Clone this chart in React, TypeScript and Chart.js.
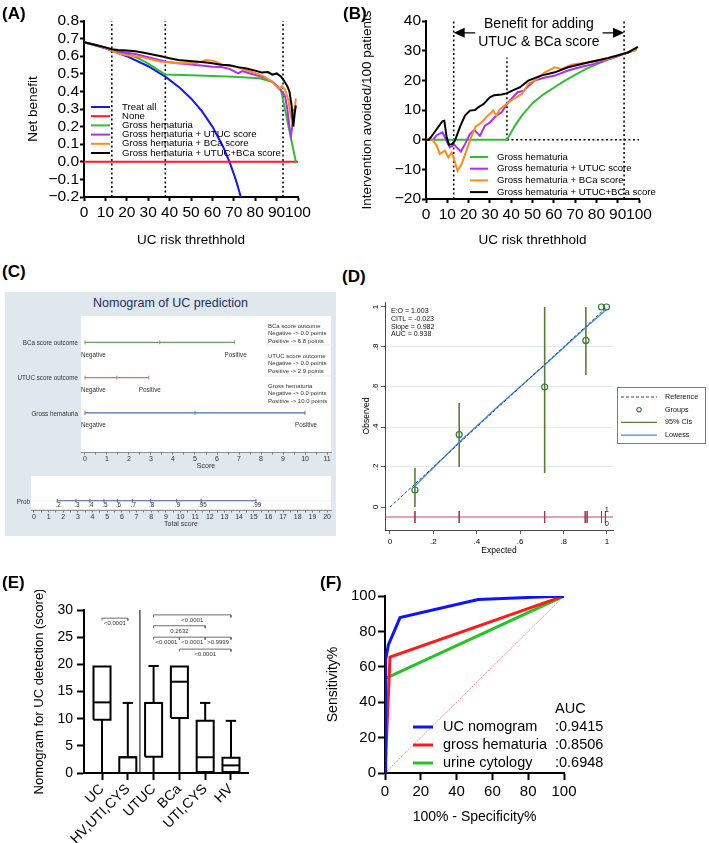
import React, { useEffect, useRef } from 'react';
import { Chart, registerables } from 'chart.js';

Chart.register(...registerables);

const FONT = "'Liberation Sans', Arial, Helvetica, sans-serif";
Chart.defaults.font.family = FONT;
Chart.defaults.color = '#000';

/* ================= DATA ================= */
// Panel A – decision curve, net benefit
const aThresholds = [13, 38, 93];
const aTreatAllX = [0, 10, 20, 30, 38, 45, 50, 55, 60, 65, 68, 71, 74];
const aTreatAllY = [0.68, 0.645, 0.6, 0.543, 0.484, 0.418, 0.36, 0.289, 0.2, 0.086, 0.0, -0.104, -0.23];
const aNoneX = [0, 100];
const aNoneY = [0, 0];
const aGrossX = [0, 5, 10, 13, 17, 21, 25, 29, 33, 38, 50, 60, 70, 82, 88, 92, 99];
const aGrossY = [0.68, 0.665, 0.648, 0.638, 0.625, 0.61, 0.59, 0.565, 0.535, 0.496, 0.492, 0.488, 0.483, 0.475, 0.455, 0.41, 0.0];
const aUtucX = [0, 5, 10, 13, 16, 20, 24, 28, 32, 36, 40, 44, 48, 52, 56, 60, 64, 68, 70, 72, 74, 78, 82, 86, 89, 91, 93, 94, 95, 96, 96.7, 97.3, 98];
const aUtucY = [0.68, 0.665, 0.648, 0.632, 0.628, 0.62, 0.612, 0.6, 0.588, 0.576, 0.565, 0.56, 0.556, 0.55, 0.546, 0.54, 0.538, 0.528, 0.515, 0.502, 0.515, 0.5, 0.488, 0.47, 0.445, 0.42, 0.39, 0.37, 0.3, 0.2, 0.15, 0.2, 0.3];
const aBcaX = [0, 5, 10, 13, 16, 20, 24, 28, 32, 36, 40, 44, 48, 52, 55, 57, 59, 61, 63, 66, 69, 72, 76, 80, 84, 88, 91, 92.5, 94, 95.5, 96.5, 97.5, 98.5, 99];
const aBcaY = [0.68, 0.665, 0.648, 0.632, 0.615, 0.605, 0.6, 0.592, 0.58, 0.568, 0.565, 0.56, 0.562, 0.56, 0.57, 0.578, 0.575, 0.572, 0.56, 0.548, 0.545, 0.535, 0.52, 0.505, 0.485, 0.455, 0.415, 0.43, 0.41, 0.35, 0.27, 0.22, 0.3, 0.36];
const aBothX = [0, 5, 10, 13, 16, 20, 24, 28, 32, 36, 40, 44, 48, 52, 56, 60, 64, 68, 72, 76, 80, 83, 86, 88, 90, 92, 93.5, 95, 96, 97, 97.8, 98.5, 99];
const aBothY = [0.68, 0.665, 0.65, 0.64, 0.635, 0.632, 0.628, 0.62, 0.61, 0.6, 0.588, 0.578, 0.574, 0.57, 0.565, 0.56, 0.552, 0.548, 0.538, 0.53, 0.518, 0.508, 0.51, 0.495, 0.502, 0.485, 0.46, 0.43, 0.4, 0.32, 0.2, 0.28, 0.32];
const aNames = ['Treat all', 'None', 'Gross hematuria', 'Gross hematuria + UTUC score', 'Gross hematuria + BCa score', 'Gross hematuria + UTUC+BCa score'];
const aXTicks = [0, 10, 20, 30, 40, 50, 60, 70, 80, 90, 100];
const aYTicks = [-0.2, -0.1, 0, 0.1, 0.2, 0.3, 0.4, 0.5, 0.6, 0.7, 0.8];

// Panel B – interventions avoided
const bThresholds = [13, 38, 93];
const bThresholdBottom = [-20, 0, -20];
const bThresholdTop = [40, 27.7, 40];
const bZeroLineFrom = 38;
const bArrow = [13, 93, 36];
const bBenefitText = ['Benefit for adding', 'UTUC & BCa score'];
const bGrossX = [0, 38, 40, 42, 45, 50, 55, 60, 65, 70, 75, 80, 85, 90, 95, 99];
const bGrossY = [0, 0, 2.5, 5, 8.1, 12.3, 15.2, 17.5, 19.8, 21.8, 23.8, 25.4, 26.9, 28.2, 29.4, 30.6];
const bUtucX = [0, 3.4, 5, 7.7, 8.9, 10, 11.2, 13.3, 14.4, 16.4, 18.3, 20.6, 22.7, 25.3, 27.7, 30, 33, 35.5, 38.6, 41, 43, 46, 48, 51, 55, 60.5, 66.7, 73, 79, 84, 88.6, 93, 98];
const bUtucY = [0, 0, 1.5, 2.5, 0.8, -1, -2.6, -1.7, -2.6, -4, -1.5, 1.9, 3.3, 1.3, 4.7, 5.8, 8.1, 9.2, 12.6, 14.5, 16, 16.5, 18, 19.9, 20.8, 21.6, 23.3, 24.6, 25.5, 26.7, 27.8, 29, 30.2];
const bBcaX = [0, 3, 5, 6.5, 8.9, 10.5, 12, 13.6, 14.8, 16.7, 19, 21.4, 23.3, 26, 29, 31.6, 33, 34.7, 37.8, 41, 45, 48, 52, 55.8, 60.5, 63.6, 68.3, 76, 85.5, 93.3, 98.8];
const bBcaY = [0, 0, -2, -4.8, -3.7, -6, -4.3, -7.6, -10.5, -8.2, -3.7, 1.3, 4.4, 5.8, 8.1, 9.8, 8.1, 10.3, 12, 13.7, 15.4, 18.8, 20.4, 22.7, 24.4, 23.8, 25.3, 26, 27.2, 29.1, 30.2];
const bBothX = [0, 1.4, 3.4, 7.7, 8.6, 9.7, 10.8, 12.3, 13.6, 16, 18.3, 20.6, 23, 24.5, 27, 30, 32, 35.5, 37.8, 41, 44, 48, 54, 60.5, 66.7, 76, 85.5, 94.8, 99.5];
const bBothY = [0, 0, 1.9, 6.2, 6.4, 0.8, -1.7, -1.5, -0.3, 4.4, 8.1, 9.8, 10, 10.9, 12, 14.3, 15, 15.2, 15.6, 16.7, 17.6, 19.9, 21.6, 22.7, 24.4, 26, 27.5, 29.4, 31.3];
const bNames = ['Gross hematuria', 'Gross hematuria + UTUC score', 'Gross hematuria + BCa score', 'Gross hematuria + UTUC+BCa score'];
const bYTicks = [-20, -10, 0, 10, 20, 30, 40];

// Panel C – nomogram
const cVariables = ['BCa score outcome', 'UTUC score outcome', 'Gross hematuria'];
const cPositivePoints = [6.8, 2.9, 10.0];
const cLevels = ['Negative', 'Positive'];
const cScoreTicks = [0, 1, 2, 3, 4, 5, 6, 7, 8, 9, 10, 11];
const cTotalTicks = [0, 1, 2, 3, 4, 5, 6, 7, 8, 9, 10, 11, 12, 13, 14, 15, 16, 17, 18, 19, 20];
const cProbLabels = ['.2', '.3', '.4', '.5', '.6', '.7', '.8', '.9', '.95', '.99'];
const cProbScores = [1.59, 2.87, 3.82, 4.78, 5.69, 6.71, 7.96, 9.74, 11.42, 15.15];

// Panel D – calibration
const dGroupX = [0.115, 0.319, 0.713, 0.903, 0.975, 0.998];
const dGroupY = [0.085, 0.362, 0.6, 0.833, 1.0, 1.0];
const dCiX = [0.115, 0.319, 0.713, 0.903];
const dCiLow = [0.0, 0.2, 0.17, 0.66];
const dCiHigh = [0.195, 0.52, 1.0, 1.0];
const dLowessX = [0.11, 0.32, 0.5, 0.713, 0.9, 1.0];
const dLowessY = [0.1, 0.325, 0.505, 0.71, 0.895, 0.99];
const dRugX = [0.115, 0.319, 0.713, 0.9, 0.909, 0.975, 0.993];
const dStats = ['E:O = 1.003', 'CITL = -0.023', 'Slope = 0.982', 'AUC = 0.938'];
const dLegend = ['Reference', 'Groups', '95% CIs', 'Lowess'];
const dTicks = [0, 0.2, 0.4, 0.6, 0.8, 1];

// Panel E – box plots
const eCategories = ['UC', 'HV,UTI,CYS', 'UTUC', 'BCa', 'UTI,CYS', 'HV'];
const eMin = [0, 0, 0, 0, 0.2, 0.2];
const eQ1 = [9.8, 0, 3.0, 10.1, 0.2, 0.2];
const eMedian = [13.0, 2.9, 12.9, 16.8, 2.9, 1.4];
const eQ3 = [19.6, 2.9, 12.9, 19.6, 9.6, 2.8];
const eMax = [19.6, 12.9, 19.7, 19.6, 12.9, 9.6];
const eBracketFrom = [0, 2, 2, 2, 3, 4, 3];
const eBracketTo = [1, 5, 4, 3, 4, 5, 5];
const eBracketY = [28.5, 29.1, 27.1, 25.0, 25.0, 25.0, 22.8];
const eBracketP = ['<0.0001', '<0.0001', '0.2632', '<0.0001', '<0.0001', '>0.9999', '<0.0001'];
const eYTicks = [0, 5, 10, 15, 20, 25, 30];

// Panel F – ROC
const fNomX = [0, 0.2, 0.5, 1.9, 4.7, 8.4, 52, 100];
const fNomY = [0, 40, 64, 72.5, 79, 87.8, 98, 100];
const fGrossX = [0, 2.8, 100];
const fGrossY = [0, 65.5, 100];
const fCytoX = [0, 0.3, 100];
const fCytoY = [0, 53.5, 100];
const fNames = ['UC nomogram', 'gross hematuria', 'urine cytology'];
const fAuc = [0.9415, 0.8506, 0.6948];
const fTicks = [0, 20, 40, 60, 80, 100];

/* ================= HELPERS ================= */
const pts = (xs: number[], ys: number[]) => xs.map((x, i) => ({ x, y: ys[i] }));

function line(data: any[], color: string, width: number, extra: any = {}) {
  return { data, showLine: true, borderColor: color, backgroundColor: color, borderWidth: width, pointRadius: 0, pointHoverRadius: 0, tension: 0, ...extra };
}

function ax(o: any) {
  return {
    type: 'linear',
    min: o.min,
    max: o.max,
    display: o.display ?? true,
    afterFit: (s: any) => { if (s.isHorizontal()) s.height = o.size; else s.width = o.size; },
    afterBuildTicks: (s: any) => { s.ticks = o.ticks.map((v: number) => ({ value: v })); },
    ticks: {
      autoSkip: false,
      minRotation: o.rot || 0,
      maxRotation: o.rot || 0,
      font: { size: o.font },
      color: o.color || '#000',
      padding: o.pad ?? 2,
      crossAlign: o.cross || 'near',
      callback: o.fmt || ((v: number) => String(v)),
    },
    grid: {
      drawOnChartArea: !!o.grid,
      color: o.grid || '#000',
      tickColor: o.tickColor || '#000',
      tickLength: o.tl ?? 5,
      tickWidth: o.tw ?? 2,
      lineWidth: 1,
    },
    border: { display: true, color: o.axisColor || '#000', width: o.bw ?? 2 },
    title: o.title
      ? { display: true, text: o.title, font: { size: o.tfont }, color: o.color || '#000', padding: o.tpad }
      : { display: false },
  };
}

function opts(padding: any, scales: any) {
  return {
    responsive: false,
    animation: false,
    events: [],
    layout: { padding },
    plugins: { legend: { display: false }, tooltip: { enabled: false }, title: { display: false } },
    scales,
  };
}

function legendPlugin(id: string, items: any[], L: any) {
  return {
    id,
    afterDraw(chart: any) {
      const ctx = chart.ctx;
      ctx.save();
      ctx.font = `${L.size}px ${FONT}`;
      ctx.textBaseline = 'middle';
      ctx.textAlign = 'left';
      items.forEach((it, i) => {
        const y = L.y0 + i * L.dy;
        if (it.point) {
          ctx.strokeStyle = it.color;
          ctx.lineWidth = 1.1;
          ctx.beginPath();
          ctx.arc((L.x0 + L.x1) / 2, y, 2.2, 0, Math.PI * 2);
          ctx.stroke();
        } else {
          ctx.strokeStyle = it.color;
          ctx.lineWidth = it.lw || L.lw;
          ctx.setLineDash(it.dash || []);
          ctx.beginPath();
          ctx.moveTo(L.x0, y);
          ctx.lineTo(L.x1, y);
          ctx.stroke();
          ctx.setLineDash([]);
        }
        ctx.fillStyle = L.textColor || '#000';
        ctx.fillText(it.label, L.tx, y);
        if (it.extra) ctx.fillText(it.extra, L.ex, y);
      });
      if (L.header) ctx.fillText(L.header, L.ex, L.y0 - L.dy);
      ctx.restore();
    },
  };
}

const minus = (s: string) => s.replace('-', '\u2212');

/* ================= PANEL CONFIGS ================= */
const A_COL = ['#1414ff', '#ff1a1a', '#2fc02f', '#b02cf0', '#ff8a1e', '#000000'];

function configA() {
  const series = [pts(aTreatAllX, aTreatAllY), pts(aNoneX, aNoneY), pts(aGrossX, aGrossY), pts(aUtucX, aUtucY), pts(aBcaX, aBcaY), pts(aBothX, aBothY)];
  const ds: any[] = [];
  for (let i = series.length - 1; i >= 0; i--) ds.push(line(series[i], A_COL[i], 2));
  aThresholds.forEach((t) => ds.push(line([{ x: t, y: -0.2 }, { x: t, y: 0.8 }], '#000', 1.5, { borderDash: [2, 2.5] })));
  return {
    type: 'scatter',
    data: { datasets: ds },
    options: opts({ left: 0, top: 21, right: 57, bottom: 0 }, {
      x: ax({ min: 0, max: 100, size: 58, ticks: aXTicks, font: 15.5, pad: 2, tl: 4, title: 'UC risk threthhold', tfont: 13.5, tpad: { top: 0, bottom: 7 } }),
      y: ax({ min: -0.2, max: 0.8, size: 84, ticks: aYTicks, font: 15.5, pad: 1, tl: 4, fmt: (v: number) => minus(v.toFixed(1)), title: 'Net benefit', tfont: 13.5, tpad: { top: 25, bottom: 0 } }),
    }),
    plugins: [legendPlugin('legA', aNames.map((n, i) => ({ label: n, color: A_COL[i] })), { x0: 91, x1: 110, tx: 122, y0: 107, dy: 9.2, size: 9.6, lw: 2 })],
  };
}

const B_COL = ['#2fc02f', '#b02cf0', '#ff8a1e', '#000000'];

function configB() {
  const series = [pts(bGrossX, bGrossY), pts(bUtucX, bUtucY), pts(bBcaX, bBcaY), pts(bBothX, bBothY)];
  const ds: any[] = [];
  for (let i = series.length - 1; i >= 0; i--) ds.push(line(series[i], B_COL[i], 2));
  bThresholds.forEach((t, i) => ds.push(line([{ x: t, y: bThresholdBottom[i] }, { x: t, y: bThresholdTop[i] }], '#000', 1.5, { borderDash: [2, 2.5] })));
  ds.push(line([{ x: bZeroLineFrom, y: 0 }, { x: 100, y: 0 }], '#000', 1.5, { borderDash: [2, 2.5] }));
  const annot = {
    id: 'bAnnot',
    afterDatasetsDraw(chart: any) {
      const { ctx, scales } = chart;
      const xl = scales.x.getPixelForValue(bArrow[0]);
      const xr = scales.x.getPixelForValue(bArrow[1]);
      const ya = scales.y.getPixelForValue(bArrow[2]);
      ctx.save();
      ctx.font = `14px ${FONT}`;
      const w = Math.max(...bBenefitText.map((t) => ctx.measureText(t).width));
      const xc = (xl + xr) / 2;
      ctx.strokeStyle = '#000';
      ctx.lineWidth = 1.2;
      ctx.beginPath();
      ctx.moveTo(xl + 8, ya);
      ctx.lineTo(xc - w / 2 - 3, ya);
      ctx.moveTo(xc + w / 2 + 3, ya);
      ctx.lineTo(xr - 8, ya);
      ctx.stroke();
      ctx.fillStyle = '#000';
      ctx.beginPath();
      ctx.moveTo(xl, ya); ctx.lineTo(xl + 11, ya - 5); ctx.lineTo(xl + 11, ya + 5); ctx.closePath(); ctx.fill();
      ctx.beginPath();
      ctx.moveTo(xr, ya); ctx.lineTo(xr - 11, ya - 5); ctx.lineTo(xr - 11, ya + 5); ctx.closePath(); ctx.fill();
      ctx.textAlign = 'center';
      ctx.textBaseline = 'middle';
      ctx.fillText(bBenefitText[0], xc, ya - 9);
      ctx.fillText(bBenefitText[1], xc, ya + 9.5);
      ctx.restore();
    },
  };
  return {
    type: 'scatter',
    data: { datasets: ds },
    options: opts({ left: 0, top: 21, right: 70, bottom: 0 }, {
      x: ax({ min: 0, max: 100, size: 56, ticks: aXTicks, font: 15.5, pad: 2, tl: 4, title: 'UC risk threthhold', tfont: 13.5, tpad: { top: 0, bottom: 7 } }),
      y: ax({ min: -20, max: 40, size: 71, ticks: bYTicks, font: 15.5, pad: 1, tl: 4, fmt: (v: number) => minus(String(v)), title: 'Intervention avoided/100 patients', tfont: 13.5, tpad: { top: 4, bottom: 0 } }),
    }),
    plugins: [annot, legendPlugin('legB', bNames.map((n, i) => ({ label: n, color: B_COL[i] })), { x0: 115, x1: 133, tx: 142, y0: 157, dy: 11.7, size: 9.6, lw: 2 })],
  };
}

const C_COL = ['#6f9f5f', '#c8737c', '#4f6fa8'];
const halfSteps = (ticks: number[]) => {
  const out: number[] = [];
  ticks.forEach((t, i) => { out.push(t); if (i < ticks.length - 1) out.push((t + ticks[i + 1]) / 2); });
  return out;
};

function configC1() {
  const n = cVariables.length;
  const ds = cVariables.map((_, i) => {
    const y = n - i;
    const p = cPositivePoints[i];
    return line([{ x: 0, y }, { x: p / 2, y }, { x: p, y }], C_COL[i], 1.2, { pointStyle: 'line', rotation: 90, pointRadius: 2, pointBorderColor: C_COL[i], pointBorderWidth: 0.9 });
  });
  const plug = {
    id: 'nomo',
    beforeDraw(chart: any) {
      const { ctx, chartArea: a } = chart;
      ctx.save();
      ctx.fillStyle = '#ffffff';
      ctx.fillRect(a.left, a.top, a.right - a.left, a.bottom - a.top);
      ctx.strokeStyle = '#e6e6e6';
      ctx.lineWidth = 0.8;
      [32, 63].forEach((yy) => { ctx.beginPath(); ctx.moveTo(a.right - 66, yy); ctx.lineTo(a.right, yy); ctx.stroke(); });
      ctx.restore();
    },
    afterDraw(chart: any) {
      const { ctx, scales, chartArea: a } = chart;
      ctx.save();
      ctx.font = `6.3px ${FONT}`;
      ctx.fillStyle = '#333';
      ctx.textBaseline = 'middle';
      cVariables.forEach((name, i) => {
        const y = scales.y.getPixelForValue(n - i);
        ctx.textAlign = 'right';
        ctx.fillText(name, a.left - 3, y + 1);
        ctx.textAlign = 'left';
        ctx.fillText(cLevels[0], scales.x.getPixelForValue(0) - 4, y + 12.5);
        ctx.textAlign = 'center';
        ctx.fillText(cLevels[1], scales.x.getPixelForValue(cPositivePoints[i]) + 1, y + 12.5);
        const lines = [name, `${cLevels[0]} -> 0.0 points`, `${cLevels[1]} -> ${cPositivePoints[i].toFixed(1)} points`];
        ctx.textAlign = 'left';
        ctx.font = `6px ${FONT}`;
        lines.forEach((t, k) => ctx.fillText(t, a.right - 63, a.top + 10 + i * 30 + k * 7.6));
        ctx.font = `6.3px ${FONT}`;
      });
      ctx.restore();
    },
  };
  return {
    type: 'scatter',
    data: { datasets: ds },
    options: opts({ left: 76, top: 0, right: 5, bottom: 0 }, {
      x: ax({ min: -0.18, max: 11.18, size: 21, ticks: halfSteps(cScoreTicks), font: 7, pad: 0, tl: 2.5, tw: 0.8, tickColor: '#555', axisColor: '#777', bw: 0.8, color: '#333', fmt: (v: number) => (Number.isInteger(v) ? String(v) : ''), title: 'Score', tfont: 7, tpad: { top: 0, bottom: 3 } }),
      y: { type: 'linear', display: false, min: -0.11, max: 3.75 },
    }),
    plugins: [plug],
  };
}

function configC2() {
  const ROW = 0.27;
  const ds = [line(cProbScores.map((x) => ({ x, y: ROW })), '#4a5f8c', 1.1, { pointStyle: 'line', rotation: 90, pointRadius: 2, pointBorderColor: '#4a5f8c', pointBorderWidth: 0.9 })];
  const plug = {
    id: 'prob',
    beforeDraw(chart: any) {
      const { ctx, chartArea: a, scales } = chart;
      ctx.save();
      ctx.fillStyle = '#ffffff';
      ctx.fillRect(a.left, a.top, a.right - a.left, a.bottom - a.top - 1);
      const y = scales.y.getPixelForValue(ROW);
      ctx.strokeStyle = '#ececec';
      ctx.lineWidth = 0.8;
      ctx.beginPath(); ctx.moveTo(a.left, y); ctx.lineTo(a.right, y); ctx.stroke();
      ctx.restore();
    },
    afterDraw(chart: any) {
      const { ctx, scales, chartArea: a } = chart;
      const y = scales.y.getPixelForValue(ROW);
      ctx.save();
      ctx.font = `6.3px ${FONT}`;
      ctx.fillStyle = '#333';
      ctx.textBaseline = 'middle';
      ctx.textAlign = 'right';
      ctx.fillText('Prob', a.left - 1, y + 1);
      ctx.textAlign = 'center';
      cProbLabels.forEach((l, i) => ctx.fillText(l, scales.x.getPixelForValue(cProbScores[i]) + 1, y + 4));
      ctx.restore();
    },
  };
  return {
    type: 'scatter',
    data: { datasets: ds },
    options: opts({ left: 26, top: 0, right: 5, bottom: 0 }, {
      x: ax({ min: -0.2, max: 20.27, size: 18, ticks: halfSteps(cTotalTicks), font: 7, pad: 0, tl: 2.5, tw: 0.8, tickColor: '#555', axisColor: '#777', bw: 0.8, color: '#333', fmt: (v: number) => (Number.isInteger(v) ? String(v) : ''), title: 'Total score', tfont: 7, tpad: { top: 0, bottom: 0 } }),
      y: { type: 'linear', display: false, min: 0, max: 1 },
    }),
    plugins: [plug],
  };
}

const D_REF = '#24467a';
const D_LOW = '#3d8fe8';
const D_GRP = '#2e7d32';
const D_CI = '#5c7c32';
const D_RUG = '#c8485a';

function configD() {
  const xmin = -0.023;
  const xmax = 1.028;
  const ds: any[] = [];
  ds.push({ data: pts(dGroupX, dGroupY), showLine: false, pointStyle: 'circle', pointRadius: 3, pointBorderColor: D_GRP, pointBackgroundColor: 'rgba(0,0,0,0)', pointBorderWidth: 1.2 });
  ds.push(line([{ x: 0, y: 0 }, { x: 1, y: 1 }], D_REF, 1, { borderDash: [3, 2] }));
  ds.push(line(pts(dLowessX, dLowessY), D_LOW, 1.3));
  dCiX.forEach((x, i) => ds.push(line([{ x, y: dCiLow[i] }, { x, y: dCiHigh[i] }], D_CI, 1.6)));
  dRugX.forEach((x) => ds.push(line([{ x, y: -0.02 }, { x, y: -0.08 }], '#a8384a', 0.9)));
  ds.push(line([{ x: xmin, y: -0.05 }, { x: xmax, y: -0.05 }], D_RUG, 1));
  const plug = {
    id: 'dText',
    afterDraw(chart: any) {
      const { ctx, scales } = chart;
      ctx.save();
      ctx.font = `7px ${FONT}`;
      ctx.fillStyle = '#111';
      ctx.textBaseline = 'middle';
      ctx.textAlign = 'left';
      dStats.forEach((t, i) => ctx.fillText(t, 36, 16 + i * 7.8));
      ctx.font = `7.5px ${FONT}`;
      ctx.textAlign = 'center';
      const xr = scales.x.getPixelForValue(1);
      ctx.fillText('1', xr, scales.y.getPixelForValue(-0.015));
      ctx.fillText('0', xr, scales.y.getPixelForValue(-0.087));
      ctx.strokeStyle = '#7a7a7a';
      ctx.lineWidth = 1;
      ctx.strokeRect(262.5, 92.5, 88, 56);
      ctx.restore();
    },
  };
  const legItems = [
    { label: dLegend[0], color: D_REF, dash: [3, 2], lw: 1 },
    { label: dLegend[1], color: D_GRP, point: true },
    { label: dLegend[2], color: D_CI, lw: 1.4 },
    { label: dLegend[3], color: D_LOW, lw: 1.3 },
  ];
  const fmt = (v: number) => (v === 0 ? '0' : v === 1 ? '1' : '.' + Math.round(v * 10));
  return {
    type: 'scatter',
    data: { datasets: ds },
    options: opts({ left: 0, top: 7, right: 96, bottom: 0 }, {
      x: ax({ min: xmin, max: xmax, size: 30, ticks: dTicks, font: 8, pad: 3, tl: 4, tw: 0.8, bw: 0.9, axisColor: '#333', tickColor: '#333', fmt, title: 'Expected', tfont: 8.5, tpad: { top: 0, bottom: 4 } }),
      y: ax({
        min: -0.115, max: 1.025, size: 30, ticks: dTicks, font: 8, pad: 1.6, tl: 4, tw: 0.8, bw: 0.9, axisColor: '#333', tickColor: '#333', rot: 90, cross: 'center', fmt,
        grid: (c: any) => (c.tick && c.tick.value > 0.01 && c.tick.value < 0.99 ? '#e2ebef' : 'rgba(0,0,0,0)'),
        title: 'Observed', tfont: 8.5, tpad: { top: 7, bottom: 0 },
      }),
    }),
    plugins: [plug, legendPlugin('legD', legItems, { x0: 266, x1: 302, tx: 310, y0: 102, dy: 12.7, size: 7.2, lw: 1, textColor: '#111' })],
  };
}

const BOX_HW = 0.33;
const CAP_HW = 0.2;

function configE() {
  const ds: any[] = [];
  eCategories.forEach((_, i) => {
    const q1 = eQ1[i], q3 = eQ3[i], md = eMedian[i];
    ds.push(line([{ x: i - BOX_HW, y: q1 }, { x: i + BOX_HW, y: q1 }, { x: i + BOX_HW, y: q3 }, { x: i - BOX_HW, y: q3 }, { x: i - BOX_HW, y: q1 }], '#000', 2));
    ds.push(line([{ x: i - BOX_HW, y: md }, { x: i + BOX_HW, y: md }], '#000', 2));
    if (eMax[i] > q3) {
      ds.push(line([{ x: i, y: q3 }, { x: i, y: eMax[i] }], '#000', 2));
      ds.push(line([{ x: i - CAP_HW, y: eMax[i] }, { x: i + CAP_HW, y: eMax[i] }], '#000', 2));
    }
    if (eMin[i] < q1) {
      ds.push(line([{ x: i, y: q1 }, { x: i, y: eMin[i] }], '#000', 2));
    }
  });
  ds.push(line([{ x: 1.47, y: 0 }, { x: 1.47, y: 30 }], '#000', 1));
  eBracketFrom.forEach((f, i) => {
    const y = eBracketY[i];
    ds.push(line([{ x: f, y: y - 0.45 }, { x: f, y }, { x: eBracketTo[i], y }, { x: eBracketTo[i], y: y - 0.45 }], '#6b6b6b', 1));
  });
  const plug = {
    id: 'eText',
    afterDraw(chart: any) {
      const { ctx, scales } = chart;
      ctx.save();
      ctx.font = `6px ${FONT}`;
      ctx.fillStyle = '#333';
      ctx.textAlign = 'center';
      ctx.textBaseline = 'middle';
      eBracketFrom.forEach((f, i) => {
        const xc = scales.x.getPixelForValue((f + eBracketTo[i]) / 2);
        ctx.fillText(eBracketP[i], xc, scales.y.getPixelForValue(eBracketY[i]) + 5.5);
      });
      ctx.restore();
    },
  };
  return {
    type: 'scatter',
    data: { datasets: ds },
    options: opts({ left: 0, top: 20, right: 12, bottom: 0 }, {
      x: ax({ min: -0.698, max: 5.66, size: 70, ticks: [0, 1, 2, 3, 4, 5], font: 14, pad: 1, tl: 7, rot: 45, fmt: (v: number) => eCategories[v] }),
      y: ax({ min: 0, max: 30, size: 84, ticks: eYTicks, font: 14, pad: 4, tl: 7, title: 'Nomogram for UC detection (score)', tfont: 13, tpad: { top: 32, bottom: 0 } }),
    }),
    plugins: [plug],
  };
}

const F_COL = ['#0a14ff', '#ff1a1a', '#24c424'];

function configF() {
  const series = [pts(fNomX, fNomY), pts(fGrossX, fGrossY), pts(fCytoX, fCytoY)];
  const ds: any[] = series.map((s, i) => line(s, F_COL[i], 3));
  ds.push(line([{ x: 0, y: 0 }, { x: 100, y: 100 }], '#ff5a5a', 0.8, { borderDash: [1.5, 1] }));
  return {
    type: 'scatter',
    data: { datasets: ds },
    options: opts({ left: 0, top: 9, right: 145, bottom: 0 }, {
      x: ax({ min: 0, max: 100, size: 70, ticks: fTicks, font: 15, pad: 3, tl: 7, title: '100% - Specificity%', tfont: 14, tpad: { top: 0, bottom: 17.6 } }),
      y: ax({ min: 0, max: 100, size: 85, ticks: fTicks, font: 15, pad: 2, tl: 7, title: 'Sensitivity%', tfont: 14, tpad: { top: 24.6, bottom: 0 } }),
    }),
    plugins: [legendPlugin('legF', fNames.map((n, i) => ({ label: n, color: F_COL[i], extra: ':' + fAuc[i].toFixed(4) })), { x0: 113, x1: 133, tx: 143, ex: 255, y0: 142, dy: 18, size: 14.5, lw: 3, header: 'AUC' })],
  };
}

/* ================= COMPONENTS ================= */
function ChartBox({ x, y, w, h, make }: any) {
  const ref = useRef<HTMLCanvasElement>(null);
  useEffect(() => {
    const c = new Chart(ref.current as HTMLCanvasElement, make());
    return () => c.destroy();
  }, []);
  return <canvas ref={ref} width={w} height={h} style={{ position: 'absolute', left: x, top: y, width: w, height: h }} />;
}

function PanelLabel({ x, y, t }: any) {
  return <div style={{ position: 'absolute', left: x, top: y, font: `bold 17px ${FONT}`, lineHeight: '17px', whiteSpace: 'nowrap' }}>{t}</div>;
}

export default function App() {
  return (
    <div style={{ position: 'absolute', left: 0, top: 0, width: 709, height: 843, background: '#fff', overflow: 'hidden' }}>
      <ChartBox x={0} y={0} w={355} h={255} make={configA} />
      <ChartBox x={355} y={0} w={354} h={255} make={configB} />
      <div style={{ position: 'absolute', left: 5, top: 292, width: 331, height: 244, background: '#dfe8ed' }} />
      <div style={{ position: 'absolute', left: 5, top: 296, width: 331, textAlign: 'center', font: `12.5px ${FONT}`, lineHeight: '14px', color: '#1e2d5a' }}>Nomogram of UC prediction</div>
      <ChartBox x={5} y={313} w={331} h={160} make={configC1} />
      <ChartBox x={5} y={473} w={331} h={55} make={configC2} />
      <ChartBox x={355} y={295} w={354} h={265} make={configD} />
      <ChartBox x={0} y={590} w={260} h={253} make={configE} />
      <ChartBox x={300} y={585} w={409} h={258} make={configF} />
      <PanelLabel x={2} y={5} t="(A)" />
      <PanelLabel x={343} y={5} t="(B)" />
      <PanelLabel x={2} y={263} t="(C)" />
      <PanelLabel x={342} y={268} t="(D)" />
      <PanelLabel x={2} y={574} t="(E)" />
      <PanelLabel x={320} y={574} t="(F)" />
    </div>
  );
}
